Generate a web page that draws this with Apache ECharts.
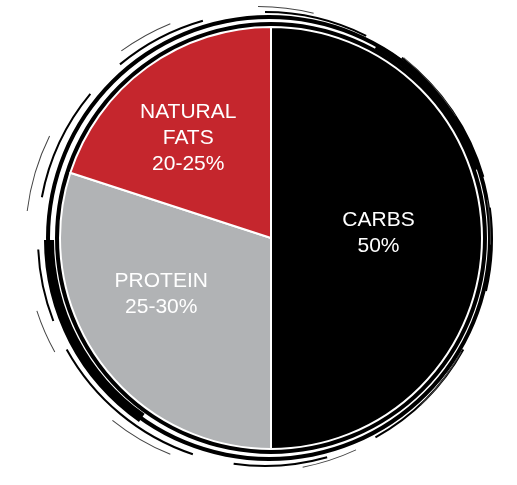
<!DOCTYPE html>
<html>
<head>
<meta charset="utf-8">
<script src="https://cdn.jsdelivr.net/npm/echarts@6/dist/echarts.min.js"></script>
<style>html,body{margin:0;padding:0;background:#fff}#c{width:517px;height:485px}</style>
</head>
<body>
<div id="c"></div>
<script>
const categories = ['CARBS', 'PROTEIN', 'NATURAL\nFATS'];
const values = [50, 30, 20];
const rangeLabels = ['50%', '25-30%', '20-25%'];
const colors = ['#000000', '#b1b3b5', '#c5262d'];

const labelOffsets = [[-1, -5], [-22, -8], [-19, -12]];
const C = [271, 238];

const chart = echarts.init(document.getElementById('c'));

function ring(center, r0, r1, color, segs) {
  let data;
  if (segs) {
    data = segs.map((v, i) => ({ value: v, itemStyle: { color: i % 2 === 0 ? color : 'rgba(0,0,0,0)' } }));
  } else {
    data = [{ value: 1, itemStyle: { color: color } }];
  }
  return {
    type: 'pie', silent: true, center: center, radius: [r0, r1],
    startAngle: 90, label: { show: false }, labelLine: { show: false },
    emphasis: { disabled: true }, animation: false, data: data, z: 1
  };
}

chart.setOption({
  backgroundColor: '#ffffff',
  animation: false,
  series: [
    ring([271, 238], 211, 216, '#000'),
    ring([269, 238], 219, 223, '#000'),
    ring([265, 239], 226, 228, '#000', [10, 4, 14, 3, 8, 6, 12, 5, 9, 4, 16, 3, 7, 5, 11, 4, 9, 6]),
    ring([258, 239], 232, 233, '#444', [5, 9, 7, 8, 4, 10, 6, 7, 5, 12, 6, 8, 4, 9, 7, 10, 5, 8]),
    ring([266, 240], 212, 222, '#000', [0, 59.7, 15.3, 25]),
    ring([272, 236], 213, 219, '#000', [0, 8, 12, 80]),
    {
      type: 'pie',
      center: C,
      radius: [0, 211],
      startAngle: 90,
      clockwise: true,
      silent: true,
      z: 2,
      itemStyle: { borderColor: '#ffffff', borderWidth: 2 },
      label: {
        show: true,
        position: 'inside',
        color: '#ffffff',
        fontFamily: 'Liberation Sans, Arial, Helvetica, sans-serif',
        fontSize: 21,
        lineHeight: 26,
        align: 'center',
        formatter: p => p.name + '\n' + rangeLabels[p.dataIndex]
      },
      labelLine: { show: false },
      data: categories.map((n, i) => ({
        name: n,
        value: values[i],
        itemStyle: { color: colors[i] },
        label: { offset: labelOffsets[i] }
      }))
    }
  ]
});
</script>
</body>
</html>
